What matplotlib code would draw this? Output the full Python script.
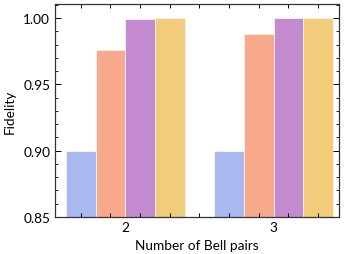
import matplotlib
matplotlib.use("Agg")
import matplotlib.pyplot as plt
import matplotlib.ticker as mticker
import numpy as np

# ── Data ───────────────────────────────────────────────────────────────────────
groups = ["2", "3"]
series_colors = ["#aab8f2", "#f9a98b", "#c38ad0", "#f0cc7b"]
fidelity_2 = [0.900, 0.976, 0.999, 1.000]
fidelity_3 = [0.900, 0.988, 1.000, 1.000]

plt.rcParams.update({
    "font.family": ["Lato", "DejaVu Sans"],
    "font.size": 9.8,
})

fig = plt.figure(figsize=(3.44, 2.55), dpi=100)
ax = fig.add_axes([0.160, 0.145, 0.825, 0.835])

n = len(series_colors)
for g, vals in enumerate([fidelity_2, fidelity_3]):
    x = g * (n + 1) + np.arange(n)
    ax.bar(x, np.array(vals) - 0.85, width=1.0, bottom=0.85,
           color=series_colors, edgecolor="#fdf3ea", linewidth=0.6)

ax.set_xlim(-0.87, 8.7)
ax.set_ylim(0.85, 1.0105)

centers = [g * (n + 1) + (n - 1) / 2 for g in range(len(groups))]
ax.set_xticks(centers)
ax.set_xticklabels(groups)
ax.set_xticks(np.arange(0, 2 * n + 1), minor=True)
ax.tick_params(axis="x", which="major", length=0, pad=3)
ax.tick_params(axis="x", which="minor", direction="in", length=3,
               top=True, bottom=True, width=0.7)

ax.set_yticks([0.85, 0.90, 0.95, 1.00])
ax.yaxis.set_major_formatter(mticker.FormatStrFormatter("%.2f"))
ax.yaxis.set_minor_locator(mticker.MultipleLocator(0.01))
ax.tick_params(axis="y", which="major", direction="in", length=4,
               left=True, right=True, width=0.7)
ax.tick_params(axis="y", which="minor", direction="in", length=2,
               left=True, right=True, width=0.6)

for s in ax.spines.values():
    s.set_color("#333333")
    s.set_linewidth(0.9)

ax.set_xlabel("Number of Bell pairs", labelpad=4.5)
ax.set_ylabel("Fidelity", labelpad=5)

fig.savefig("out.png", dpi=100)
